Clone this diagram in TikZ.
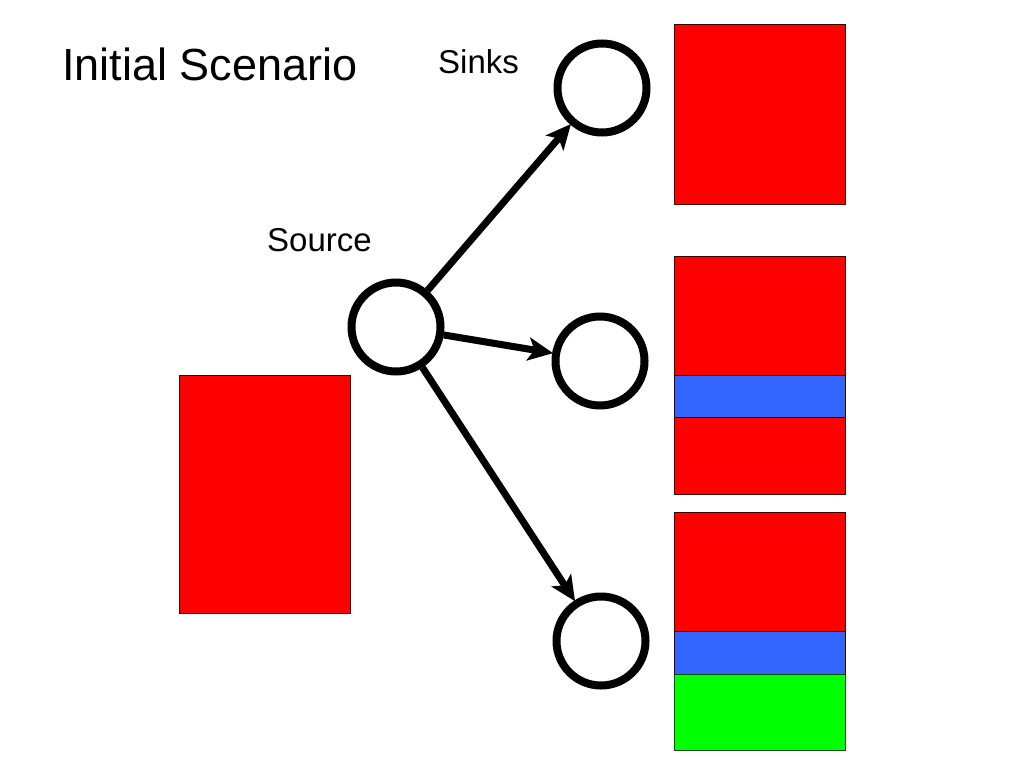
\documentclass[tikz,border=0pt]{standalone}
\usepackage{fontspec}
\setmainfont{Liberation Sans}
\usetikzlibrary{arrows.meta}
\definecolor{rred}{HTML}{FF0000}
\definecolor{rblue}{HTML}{3366FF}
\definecolor{rgreen}{HTML}{00FF00}
\definecolor{redge}{HTML}{3A0000}
\tikzset{
  vertex/.style={circle,draw=black,line width=8pt,minimum size=89pt,inner sep=0pt,fill=white},
  arr/.style={line width=7pt,-{Stealth[length=25pt,width=23pt,inset=6pt]},shorten >=-1pt},
  lbl/.style={inner sep=0pt,anchor=base west},
  blockbox/.style={draw=redge,line width=1pt}
}
\begin{document}
\begin{tikzpicture}[x=1pt,y=-1pt]
\useasboundingbox (0,0) rectangle (1024,768);
% rectangles
\filldraw[blockbox,fill=rred] (674,25) rectangle (845,204);
\filldraw[blockbox,fill=rred] (674,256) rectangle (845,494);
\filldraw[blockbox,fill=rblue] (674,375) rectangle (845,417);
\filldraw[blockbox,fill=rred] (674,512) rectangle (845,750);
\filldraw[blockbox,fill=rblue] (674,631) rectangle (845,674);
\filldraw[blockbox,fill=rgreen,draw=black!70!green] (674,674) rectangle (845,750);
\filldraw[blockbox,fill=rred] (179,375) rectangle (350,613);
% texts
\node[lbl] (title) at (62,80) {\fontsize{45}{54}\selectfont Initial Scenario};
\node[lbl] (sinks) at (438,73) {\fontsize{33}{40}\selectfont Sinks};
\node[lbl] (source) at (267,251) {\fontsize{33}{40}\selectfont Source};
% vertices
\node[vertex] (src) at (396,327) {};
\node[vertex] (s1) at (602,88) {};
\node[vertex] (s2) at (600,361) {};
\node[vertex] (s3) at (601,641) {};
% arrows
\draw[arr] (src) -- (s1);
\draw[arr] (src) -- (s2);
\draw[arr] (src) -- (s3);
\end{tikzpicture}
\end{document}
